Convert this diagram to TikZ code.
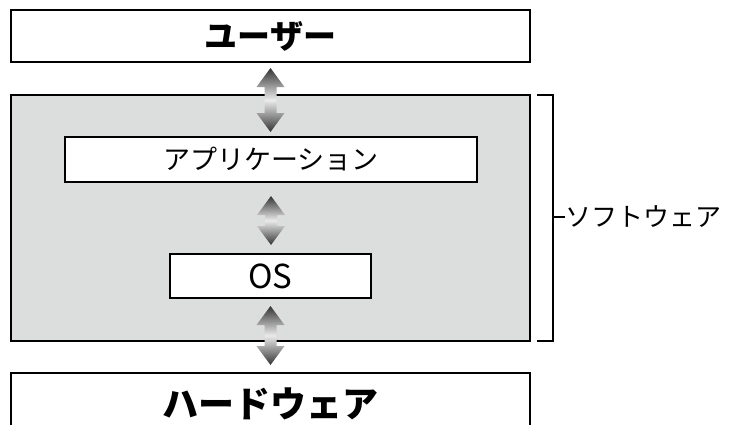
\documentclass[tikz,border=0pt]{standalone}
\usepackage{fontspec}
\setmainfont{Noto Sans CJK JP}
\usetikzlibrary{calc}
\pgfdeclareverticalshading{arrowshade}{100bp}{color(0bp)=(black!80); color(25bp)=(black!80); color(50bp)=(black!8); color(75bp)=(black!80); color(100bp)=(black!80)}
\definecolor{softgray}{HTML}{DCDEDD}
\newcommand\gradarrow[2]{%
  \shade[shading=arrowshade] let \p1=#1, \p2=#2 in
    (\x1,\y1) -- (\x1+14pt,\y1-19pt) -- (\x1+6pt,\y1-19pt) -- (\x1+6pt,\y2+19pt)
    -- (\x1+14pt,\y2+19pt) -- (\x1,\y2) -- (\x1-14pt,\y2+19pt) -- (\x1-6pt,\y2+19pt)
    -- (\x1-6pt,\y1-19pt) -- (\x1-14pt,\y1-19pt) -- cycle;}
\tikzset{
  layer/.style={draw=black, line width=2pt, fill=white, inner sep=0pt, minimum width=519pt},
  title/.style={font=\fontsize{33}{36}\selectfont\bfseries},
  label/.style={font=\fontsize{27}{30}\selectfont}
}
\begin{document}
\begin{tikzpicture}[x=1pt,y=-1pt]
\useasboundingbox (0,0) rectangle (729,424);
\node[layer, minimum height=52pt, title] (user) at (270.5,36) {ユーザー};
\node[layer, fill=softgray, minimum height=246pt] (soft) at (270.5,218) {};
\node[layer, minimum width=412pt, minimum height=45pt, label] (app) at (271,159.5) {アプリケーション};
\node[layer, minimum width=201pt, minimum height=44pt, font=\fontsize{33}{36}\selectfont] (os) at (270.5,276) {OS};
\node[layer, minimum height=62pt, title, font=\fontsize{36}{40}\selectfont\bfseries] (hw) at (270.5,404) {ハードウェア};
\coordinate (a1) at ($(user.south)+(0,5)$);
\coordinate (a2) at ($(app.north)+(0,-4)$);
\coordinate (b1) at ($(app.south)+(0,13)$);
\coordinate (b2) at ($(os.north)+(0,-8)$);
\coordinate (c1) at ($(os.south)+(0,7)$);
\coordinate (c2) at ($(hw.north)+(0,-7)$);
\gradarrow{(a1)}{(a2)}
\gradarrow{(b1)}{(b2)}
\gradarrow{(c1)}{(c2)}
\coordinate (bt) at (537,95);
\coordinate (bb) at (537,341);
\draw[line width=2pt] (bt) -- (553,95) coordinate (bt2) -- (553,341) coordinate (bb2) -- (bb);
\coordinate (tick) at (553,217);
\node[font=\fontsize{26}{30}\selectfont, anchor=west, inner sep=0pt] (sw) at (565,217) {ソフトウェア};
\draw[line width=2pt] (tick) -- (sw.west);
\end{tikzpicture}
\end{document}
